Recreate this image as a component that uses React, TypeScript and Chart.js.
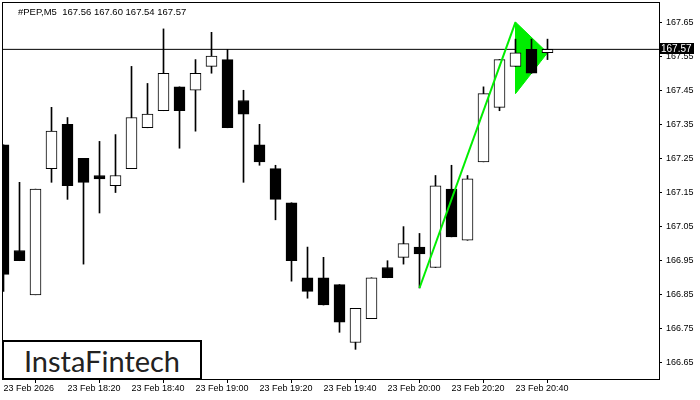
import React, { useEffect, useRef } from "react";
import { Chart, registerables } from "chart.js";

Chart.register(...registerables);

const symbolTitle = "#PEP,M5  167.56 167.60 167.54 167.57";
const opens = [167.29, 166.98, 166.85, 167.22, 167.35, 167.25, 167.2, 167.17, 167.22, 167.34, 167.39, 167.46, 167.45, 167.52, 167.54, 167.42, 167.29, 167.22, 167.12, 166.9, 166.9, 166.88, 166.71, 166.78, 166.93, 166.96, 166.99, 166.93, 167.16, 167.01, 167.24, 167.4, 167.52, 167.57, 167.56];
const highs = [167.29, 167.18, 167.16, 167.4, 167.37, 167.25, 167.3, 167.32, 167.52, 167.47, 167.63, 167.46, 167.54, 167.62, 167.57, 167.45, 167.35, 167.23, 167.12, 166.99, 166.96, 166.88, 166.81, 166.9, 166.95, 167.05, 167.03, 167.2, 167.23, 167.2, 167.46, 167.54, 167.6, 167.6, 167.6];
const lows = [166.86, 166.95, 166.85, 167.18, 167.13, 166.94, 167.09, 167.15, 167.22, 167.34, 167.39, 167.28, 167.33, 167.5, 167.34, 167.18, 167.23, 167.07, 166.89, 166.84, 166.82, 166.74, 166.69, 166.78, 166.9, 166.94, 166.87, 166.93, 167.02, 167.01, 167.24, 167.39, 167.52, 167.5, 167.54];
const closes = [166.91, 166.95, 167.16, 167.33, 167.17, 167.18, 167.19, 167.2, 167.37, 167.38, 167.5, 167.39, 167.5, 167.55, 167.34, 167.38, 167.24, 167.13, 166.95, 166.86, 166.82, 166.77, 166.81, 166.9, 166.9, 167.0, 166.97, 167.17, 167.02, 167.19, 167.44, 167.54, 167.56, 167.5, 167.57];

const xTickIdx = [0, 4, 8, 12, 16, 20, 24, 28, 32];
const xTickLabels = ["23 Feb 2026", "23 Feb 18:20", "23 Feb 18:40", "23 Feb 19:00", "23 Feb 19:20", "23 Feb 19:40", "23 Feb 20:00", "23 Feb 20:20", "23 Feb 20:40"];
const yTicks = [166.65, 166.75, 166.85, 166.95, 167.05, 167.15, 167.25, 167.35, 167.45, 167.55, 167.65];

const impulseX = [26, 32];
const impulseY = [166.87, 167.65];
const pennantX = [32, 34, 32, 32];
const pennantY = [167.65, 167.56, 167.44, 167.65];

const xMin = -0.03125;
const xMax = 40.96875;
const yMin = 166.603;
const yMax = 167.706;

export default function App() {
  const ref = useRef<HTMLCanvasElement | null>(null);

  useEffect(() => {
    document.body.style.margin = "0";
    const canvas = ref.current;
    if (!canvas) return;
    const lastClose = closes[closes.length - 1];

    const overlay = {
      id: "overlay",
      afterDraw(chart: any) {
        const { ctx, chartArea: a, scales } = chart;
        ctx.save();
        ctx.strokeStyle = "#000";
        ctx.lineWidth = 1;
        ctx.strokeRect(a.left - 0.5, a.top - 0.5, a.right - a.left + 1, a.bottom - a.top + 1);
        ctx.fillStyle = "#000";
        ctx.font = "9.5px 'Liberation Sans'";
        ctx.textBaseline = "middle";
        ctx.textAlign = "left";
        ctx.fillText(symbolTitle, 18, 12);
        const py = Math.round(scales.y.getPixelForValue(lastClose));
        ctx.fillStyle = "#000";
        ctx.fillRect(a.right + 1, py - 6, 34, 11);
        ctx.fillStyle = "#fff";
        ctx.font = "10px 'Liberation Sans'";
        ctx.fillText(lastClose.toFixed(2), a.right + 2, py);
        ctx.restore();
      },
    };

    const idx = opens.map((_, i) => i);
    const chart = new Chart(canvas, {
      type: "bar",
      data: {
        datasets: [
          {
            type: "line",
            data: impulseX.map((x, i) => ({ x, y: impulseY[i] })),
            borderColor: "#00ee00",
            borderWidth: 2,
            pointRadius: 0,
            fill: false,
            order: 1,
          } as any,
          {
            type: "bar",
            data: idx.map((i) => ({ x: i, y: [opens[i], closes[i]] })),
            backgroundColor: idx.map((i) => (closes[i] >= opens[i] ? "#ffffff" : "#000000")),
            borderColor: "#000",
            borderWidth: 1,
            borderSkipped: false,
            barThickness: 11,
            grouped: false,
            order: 3,
          } as any,
          {
            type: "bar",
            data: idx.map((i) => ({ x: i, y: [lows[i], highs[i]] })),
            backgroundColor: "#000",
            borderWidth: 0,
            barThickness: 1,
            grouped: false,
            order: 4,
          } as any,
          {
            type: "line",
            data: pennantX.map((x, i) => ({ x, y: pennantY[i] })),
            borderColor: "#00ee00",
            backgroundColor: "#00ee00",
            borderWidth: 1,
            pointRadius: 0,
            fill: "shape",
            order: 5,
          } as any,
          {
            type: "line",
            data: [
              { x: xMin, y: lastClose },
              { x: xMax, y: lastClose },
            ],
            borderColor: "#000",
            borderWidth: 1,
            pointRadius: 0,
            fill: false,
            order: 6,
          } as any,
        ],
      },
      options: {
        responsive: false,
        animation: false,
        devicePixelRatio: 1,
        layout: { padding: { top: 3, left: 3, right: 0, bottom: 0 } },
        plugins: { legend: { display: false }, tooltip: { enabled: false } },
        scales: {
          x: {
            type: "linear",
            min: xMin,
            max: xMax,
            offset: false,
            border: { display: false },
            grid: { display: true, drawOnChartArea: false, drawTicks: true, tickLength: 4, tickColor: "#000" },
            afterBuildTicks: (axis: any) => {
              axis.ticks = xTickIdx.map((v) => ({ value: v }));
            },
            afterFit: (axis: any) => {
              axis.height = 21;
              axis.paddingLeft = 0;
              axis.paddingRight = 0;
              axis.paddingTop = 0;
              axis.paddingBottom = 0;
            },
            ticks: {
              autoSkip: false,
              maxRotation: 0,
              minRotation: 0,
              align: "start",
              padding: 0,
              color: "#000",
              font: { family: "'Liberation Sans'", size: 9 },
              callback: (_v: any, i: number) => xTickLabels[i],
            },
          },
          y: {
            type: "linear",
            position: "right",
            min: yMin,
            max: yMax,
            border: { display: false },
            grid: { display: true, drawOnChartArea: false, drawTicks: true, tickLength: 3, tickColor: "#000" },
            afterBuildTicks: (axis: any) => {
              axis.ticks = yTicks.map((v) => ({ value: v }));
            },
            afterFit: (axis: any) => {
              axis.width = 41;
              axis.paddingLeft = 0;
              axis.paddingRight = 0;
              axis.paddingTop = 0;
              axis.paddingBottom = 0;
            },
            ticks: {
              padding: 4,
              color: "#000",
              font: { family: "'Liberation Sans'", size: 9 },
              callback: (v: any) => Number(v).toFixed(2),
            },
          },
        },
      } as any,
      plugins: [overlay],
    });
    return () => chart.destroy();
  }, []);

  return (
    <div style={{ position: "fixed", left: 0, top: 0, width: 700, height: 400, background: "#fff" }}>
      <canvas ref={ref} width={700} height={400} style={{ display: "block" }} />
      <div
        style={{
          position: "absolute",
          left: 2,
          top: 340,
          width: 196,
          height: 36,
          border: "2px solid #000",
          background: "#fff",
          display: "flex",
          alignItems: "center",
          justifyContent: "center",
          fontFamily: "Lato, sans-serif",
          fontSize: 29,
          color: "#222",
          lineHeight: 1,
        }}
      >
        InstaFintech
      </div>
    </div>
  );
}
